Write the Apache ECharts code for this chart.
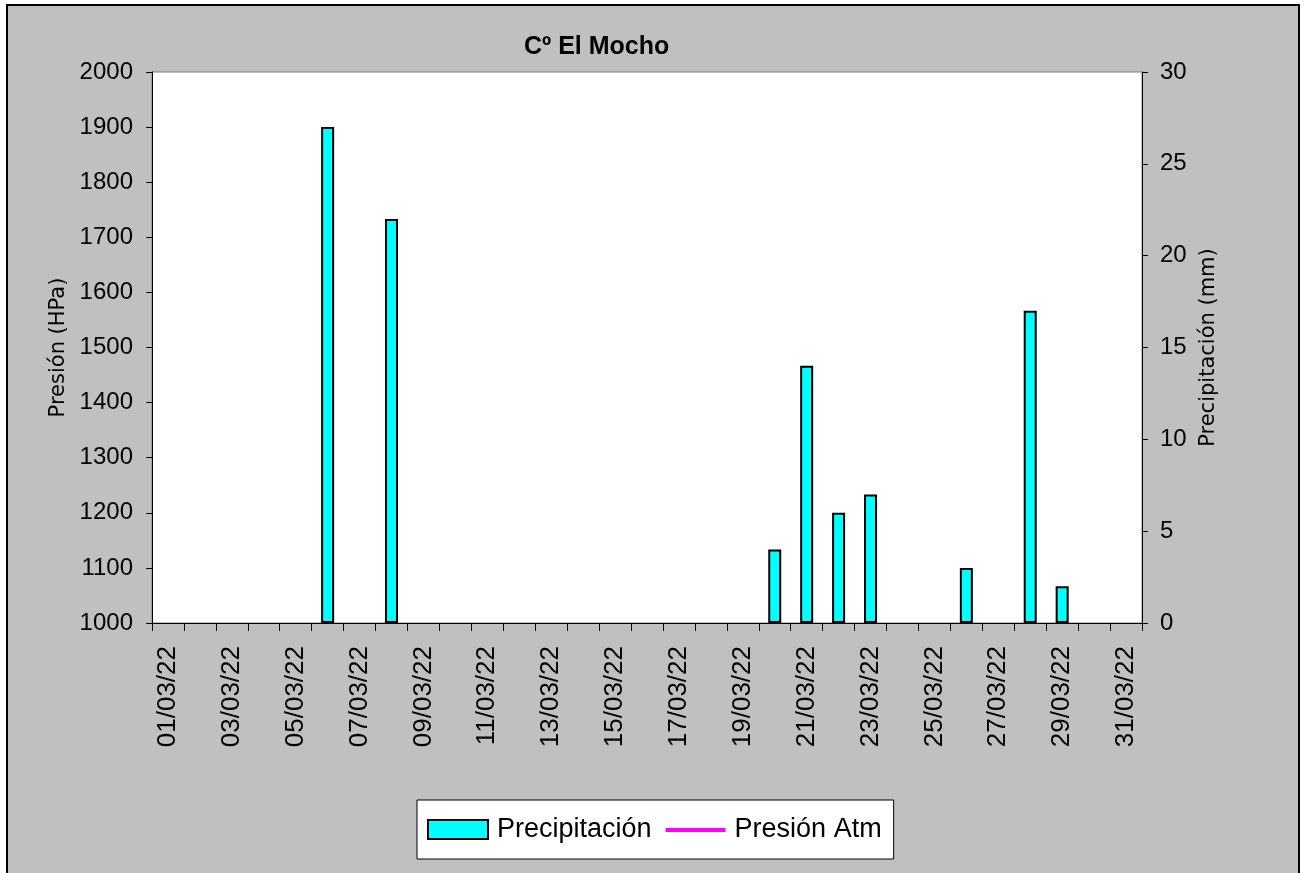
<!DOCTYPE html>
<html>
<head>
<meta charset="utf-8">
<script src="https://cdn.jsdelivr.net/npm/echarts@6/dist/echarts.min.js"></script>
<style>
  html, body { margin: 0; padding: 0; background: #ffffff; }
  #frame { position: absolute; left: 6px; top: 4px; width: 1290px; height: 880px; background: #c0c0c0; border: 2px solid #000; }
  #chart { position: absolute; left: 0; top: 0; width: 1305px; height: 873px; }
</style>
</head>
<body>
<div id="frame"></div>
<div id="chart"></div>
<script>
// ---- data ----
const titleText = 'Cº El Mocho';
const dates = ['01/03/22','02/03/22','03/03/22','04/03/22','05/03/22','06/03/22','07/03/22','08/03/22','09/03/22','10/03/22',
               '11/03/22','12/03/22','13/03/22','14/03/22','15/03/22','16/03/22','17/03/22','18/03/22','19/03/22','20/03/22',
               '21/03/22','22/03/22','23/03/22','24/03/22','25/03/22','26/03/22','27/03/22','28/03/22','29/03/22','30/03/22','31/03/22'];
const precipitacion = [0,0,0,0,0,27,0,22,0,0, 0,0,0,0,0,0,0,0,0,4, 14,6,7,0,0,3,0,17,2,0,0];
const presionAtm = [];   // no visible values in the reference
const leftAxisName = 'Presión (HPa)';
const rightAxisName = 'Precipitación (mm)';
const seriesNames = ['Precipitación', 'Presión Atm'];

const FONT = 'Liberation Sans, Arial, sans-serif';
const chart = echarts.init(document.getElementById('chart'), null, { renderer: 'canvas' });

const option = {
  backgroundColor: 'transparent',
  animation: false,
  title: {
    text: titleText,
    left: 519, top: 30,
    textStyle: { fontFamily: FONT, fontWeight: 'bold', fontSize: 25, color: '#000' }
  },
  grid: {
    left: 152, top: 72, right: 163, bottom: 250,
    show: true, backgroundColor: '#ffffff', borderColor: '#808080', borderWidth: 1
  },
  legend: {
    left: 417, top: 800,
    padding: [16, 12, 16, 10],
    backgroundColor: '#ffffff', borderColor: '#000', borderWidth: 1,
    itemGap: 14,
    itemWidth: 60, itemHeight: 19,
    textStyle: { fontFamily: FONT, fontSize: 27, color: '#000', padding: [0, 0, 0, 4] },
    data: [
      { name: seriesNames[0], icon: 'rect', itemStyle: { color: '#00ffff', borderColor: '#000', borderWidth: 2 } },
      { name: seriesNames[1], icon: 'path://M0,0 M0,8 L62,8 L62,12 L0,12 Z M62,19',
        itemStyle: { color: '#ff00ff', borderWidth: 0 } }
    ]
  },
  xAxis: {
    type: 'category',
    data: dates,
    boundaryGap: true,
    axisLine: { show: true, lineStyle: { color: '#000', width: 1 } },
    axisTick: { show: true, interval: 0, length: 8, lineStyle: { color: '#000' } },
    axisLabel: { interval: 1, rotate: 90, margin: 23, fontFamily: FONT, fontSize: 26, color: '#000' },
    splitLine: { show: false }
  },
  yAxis: [
    {
      type: 'value', min: 1000, max: 2000, interval: 100, position: 'left',
      name: leftAxisName, nameLocation: 'middle', nameRotate: 90, nameGap: 74,
      nameTextStyle: { fontFamily: 'DejaVu Sans, sans-serif', fontSize: 21, color: '#000' },
      axisLine: { show: true, lineStyle: { color: '#000', width: 1 } },
      axisTick: { show: true, length: 6, lineStyle: { color: '#000' } },
      axisLabel: { margin: 19, fontFamily: FONT, fontSize: 24, color: '#000', formatter: v => String(v) },
      splitLine: { show: false }
    },
    {
      type: 'value', min: 0, max: 30, interval: 5, position: 'right',
      name: rightAxisName, nameLocation: 'middle', nameRotate: 90, nameGap: 54,
      nameTextStyle: { fontFamily: 'DejaVu Sans, sans-serif', fontSize: 21, color: '#000' },
      axisLine: { show: true, lineStyle: { color: '#000', width: 1 } },
      axisTick: { show: true, length: 6, lineStyle: { color: '#000' } },
      axisLabel: { margin: 18, fontFamily: FONT, fontSize: 24, color: '#000', formatter: v => String(v) },
      splitLine: { show: false }
    }
  ],
  series: [
    {
      name: seriesNames[0],
      type: 'bar',
      yAxisIndex: 1,
      barWidth: 13,
      itemStyle: { color: '#00ffff', borderColor: '#000', borderWidth: 2 },
      data: precipitacion.map(v => (v > 0 ? v : '-'))
    },
    {
      name: seriesNames[1],
      type: 'line',
      yAxisIndex: 0,
      symbol: 'none',
      lineStyle: { color: '#ff00ff', width: 4 },
      itemStyle: { color: '#ff00ff' },
      data: presionAtm
    }
  ]
};
chart.setOption(option);
</script>
</body>
</html>
